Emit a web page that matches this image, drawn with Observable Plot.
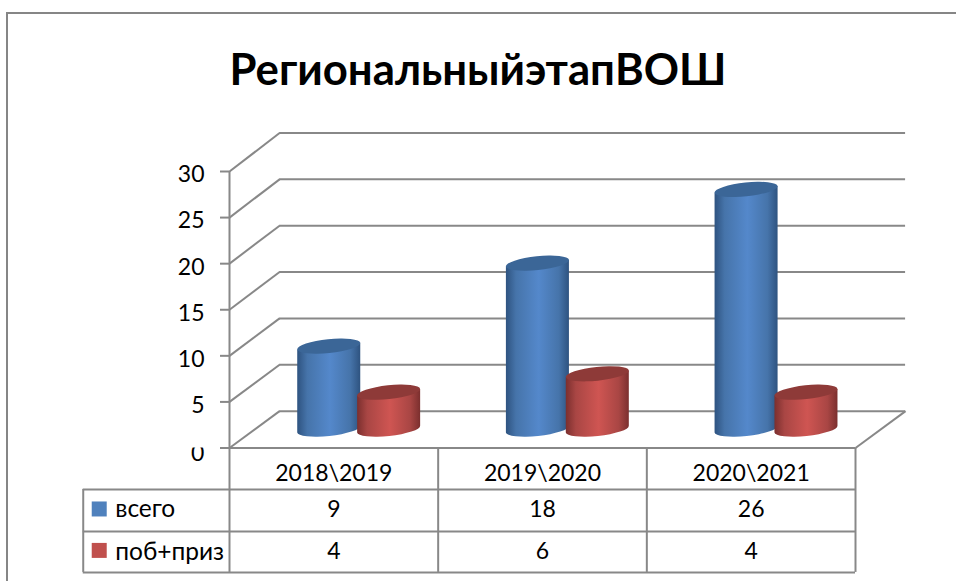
<!DOCTYPE html>
<html lang="ru">
<head>
<meta charset="utf-8">
<script src="https://cdn.jsdelivr.net/npm/d3@7"></script>
<script src="https://cdn.jsdelivr.net/npm/@observablehq/plot@0.6"></script>
<style>
  html, body { margin: 0; padding: 0; background: #fff; width: 956px; height: 581px; overflow: hidden; }
  #page { position: relative; width: 956px; height: 581px; overflow: hidden; }
  #frame { position: absolute; left: 6px; top: 12px; width: 1100px; height: 800px; border: 2px solid #868686; }
  #title { position: absolute; left: 0; top: 0; width: 956px; height: 130px; text-align: center;
           font: bold 43.7px/136px Lato, "Open Sans", sans-serif; color: #000; box-sizing: border-box; }
  #chart { position: absolute; left: 0; top: 130px; }
  svg { display: block; background: transparent !important; }
</style>
</head>
<body>
<div id="page">
  <div id="frame"></div>
  <div id="title"></div>
  <div id="chart"></div>
</div>
<script>
const titleText = "РегиональныйэтапВОШ";
const categories = ["2018\\2019", "2019\\2020", "2020\\2021"];
const seriesNames = ["всего", "поб+приз"];
const vsego = [9, 18, 26];
const pobPriz = [4, 6, 4];
const yTicks = [0, 5, 10, 15, 20, 25, 30];

// projection of the 3-D box, in data units
const depthX = 0.24, depthY = 4.0, backScale = 1.006;
const back = v => v * backScale + depthY;
const colEdges = [0, 1, 2, 3];
const tableLeft = -0.701;
const rowEdges = [0, -4.5, -9.05, -13.5];
const gray = "#888888";
const baseLevel = 2;
const cylWidth = 0.302;
const seriesOffset = [0.327, 0.614];

const rowsFor = (vals, s) => vals.map((value, i) => ({
  x1: i + seriesOffset[s], x2: i + seriesOffset[s] + cylWidth, y1: baseLevel, y2: baseLevel + value
}));

function cylinder(topFill) {
  return function (index, scales, values, dimensions, context, next) {
    const g = next(index, scales, values, dimensions, context);
    const theta = -6;
    const ry = 6.9;
    g.querySelectorAll("rect").forEach(r => {
      const x = +r.getAttribute("x"), y = +r.getAttribute("y"),
            w = +r.getAttribute("width"), h = +r.getAttribute("height");
      const cx = x + w / 2, rx = w / 2 / Math.cos(theta * Math.PI / 180);
      const b = rx * Math.sin(-theta * Math.PI / 180), a = w / 2;
      const top = y, base = y + h;
      const ns = "http://www.w3.org/2000/svg";
      const body = document.createElementNS(ns, "path");
      body.setAttribute("d",
        `M${cx - a},${top + b}L${cx - a},${base + b}` +
        `A${rx},${ry} ${theta} 0 0 ${cx + a},${base - b}` +
        `L${cx + a},${top - b}Z`);
      const cap = document.createElementNS(ns, "path");
      cap.setAttribute("d",
        `M${cx - a},${top + b}A${rx},${ry} ${theta} 1 1 ${cx + a},${top - b}` +
        `A${rx},${ry} ${theta} 1 1 ${cx - a},${top + b}Z`);
      cap.setAttribute("fill", topFill);
      r.replaceWith(body, cap);
    });
    return g;
  };
}

const gradientDefs = () => {
  const stops = (id, edge, mid, centre) =>
    `<linearGradient id="${id}" x1="0" x2="1" y1="0" y2="0">
       <stop offset="0" stop-color="${edge}"/><stop offset="0.16" stop-color="${mid}"/>
       <stop offset="0.52" stop-color="${centre}"/><stop offset="0.84" stop-color="${mid}"/>
       <stop offset="1" stop-color="${edge}"/></linearGradient>`;
  const defs = d3.create("svg:defs");
  defs.html(stops("cylBlue", "#2e5380", "#4674aa", "#5488cb") + stops("cylRed", "#7b2f2e", "#a94644", "#cf5552"));
  return defs.node();
};

const lineStyle = { stroke: gray, strokeWidth: 2 };
document.getElementById("title").textContent = titleText;

const chart = Plot.plot({
  width: 956,
  height: 451,
  marginLeft: 229,
  marginRight: 101,
  marginTop: 41,
  marginBottom: 133.5,
  x: { domain: [0, 3], axis: null },
  y: { domain: [0, 30], axis: null },
  style: { fontFamily: "Lato, 'Open Sans', sans-serif", color: "#000", background: "transparent" },
  marks: [
    gradientDefs,
    // back wall gridlines and floor
    Plot.ruleY(yTicks, { y: back, x1: () => depthX, x2: () => 3 + depthX, ...lineStyle }),
    // receding side-wall lines
    Plot.link(yTicks, { x1: () => 0, y1: d => d, x2: () => depthX, y2: back, ...lineStyle }),
    Plot.link([0], { x1: () => 3, y1: d => d, x2: () => 3 + depthX, y2: back, ...lineStyle }),
    // front axis line and ticks
    Plot.ruleX([0], { y1: () => 0, y2: () => 30, ...lineStyle }),
    Plot.ruleY(yTicks, { x1: () => -0.043, x2: () => 0, ...lineStyle }),
    // value axis
    Plot.axisY(yTicks.slice(1), { anchor: "left", tickSize: 0, tickPadding: 25, fontSize: 23, dy: 3.5, stroke: "none", label: null, fill: "#000" }),
    Plot.text([yTicks[0]], { x: () => -0.12, y: d => d, dy: 6, text: d => String(d), textAnchor: "end", fontSize: 23, fill: "#000" }),
    Plot.rect([yTicks[0]], { x1: () => -0.2, x2: () => -0.1, y1: () => 0, y2: () => 1.3, fill: "#fff" }),
    // cylinders
    Plot.rect(rowsFor(vsego, 0), { x1: "x1", x2: "x2", y1: "y1", y2: "y2", fill: "url(#cylBlue)", render: cylinder("#3b6697") }),
    Plot.rect(rowsFor(pobPriz, 1), { x1: "x1", x2: "x2", y1: "y1", y2: "y2", fill: "url(#cylRed)", render: cylinder("#8e3a38") }),
    // data table grid
    Plot.ruleY(rowEdges.slice(0, 1), { x1: () => 0, x2: () => 3, ...lineStyle }),
    Plot.ruleY(rowEdges.slice(1), { x1: () => tableLeft, x2: () => 3, ...lineStyle }),
    Plot.ruleX(colEdges, { y1: () => rowEdges[0], y2: () => rowEdges[3], ...lineStyle }),
    Plot.ruleX([tableLeft], { y1: () => rowEdges[1], y2: () => rowEdges[3], ...lineStyle }),
    // table contents
    Plot.text(categories, { x: (d, i) => i + 0.5, y: () => rowEdges[0], dy: 25.5, text: d => d, fontSize: 23, fill: "#000" }),
    Plot.text(vsego, { x: (d, i) => i + 0.5, y: () => rowEdges[1], dy: 20, text: d => String(d), fontSize: 23, fill: "#000" }),
    Plot.text(pobPriz, { x: (d, i) => i + 0.5, y: () => rowEdges[2], dy: 20.5, text: d => String(d), fontSize: 23, fill: "#000" }),
    // legend keys and names in the table
    Plot.dot([seriesNames[0]], { x: () => tableLeft, y: () => rowEdges[1], dx: 16, dy: 19.5, symbol: "square", r: 8.46, fill: "#4f81bd", stroke: "none" }),
    Plot.dot([seriesNames[1]], { x: () => tableLeft, y: () => rowEdges[2], dx: 16, dy: 19, symbol: "square", r: 8.46, fill: "#c0504d", stroke: "none" }),
    Plot.text([seriesNames[0]], { x: () => tableLeft, y: () => rowEdges[1], dx: 32, dy: 20, text: d => d, textAnchor: "start", fontSize: 24.5, fill: "#000" }),
    Plot.text([seriesNames[1]], { x: () => tableLeft, y: () => rowEdges[2], dx: 32, dy: 20.5, text: d => d, textAnchor: "start", fontSize: 24.5, fill: "#000" })
  ]
});
document.getElementById("chart").appendChild(chart);
</script>
</body>
</html>
